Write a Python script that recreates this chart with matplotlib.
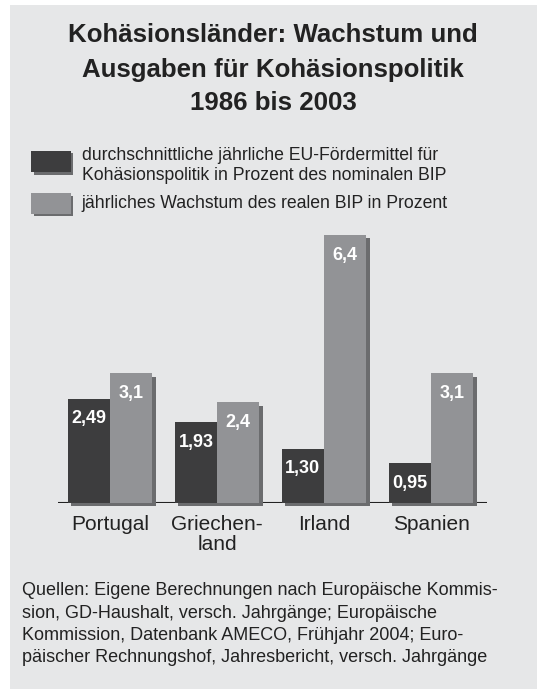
import matplotlib
matplotlib.use("Agg")
import matplotlib.pyplot as plt
import matplotlib.patheffects as pe
from matplotlib.patches import Rectangle
import numpy as np

plt.rcParams['font.family'] = ['Liberation Sans', 'DejaVu Sans']

# data
countries = ["Portugal", "Griechen-\nland", "Irland", "Spanien"]
eu_funds = [2.49, 1.93, 1.30, 0.95]      # EU-Foerdermittel in % des nominalen BIP
gdp_growth = [3.1, 2.4, 6.4, 3.1]        # Wachstum des realen BIP in %
eu_labels = ["2,49", "1,93", "1,30", "0,95"]
growth_labels = ["3,1", "2,4", "6,4", "3,1"]

title_lines = ["Kohäsionsländer: Wachstum und",
               "Ausgaben für Kohäsionspolitik",
               "1986 bis 2003"]
legend_labels = [["durchschnittliche jährliche EU-Fördermittel für",
                  "Kohäsionspolitik in Prozent des nominalen BIP"],
                 ["jährliches Wachstum des realen BIP in Prozent"]]
source_lines = ["Quellen: Eigene Berechnungen nach Europäische Kommis-",
                "sion, GD-Haushalt, versch. Jahrgänge; Europäische",
                "Kommission, Datenbank AMECO, Frühjahr 2004; Euro-",
                "päischer Rechnungshof, Jahresbericht, versch. Jahrgänge"]

dark = "#3d3d3e"
light = "#929396"
shadow = "#6b6c6e"
bg = "#e6e7e8"
ink = "#222222"

W, H = 537, 689
fig = plt.figure(figsize=(W / 100, H / 100), dpi=100)
fig.patch.set_facecolor("white")


def fx(x):
    return x / W


def fy(y):
    return 1 - y / H


# grey panel
fig.patches.append(Rectangle((fx(10), 0), 1 - fx(10), fy(5), transform=fig.transFigure,
                             facecolor=bg, edgecolor="none", zorder=-5))

# title
for i, line in enumerate(title_lines):
    fig.text(fx(273), fy([41.7, 76.5, 110][i]), line, ha="center", va="baseline",
             fontsize=18.6, fontweight="bold", color=ink)

# legend
shadow_fx = [pe.SimplePatchShadow(offset=(1.8, -1.6), shadow_rgbFace=shadow, alpha=1.0), pe.Normal()]
for col, y0, y1 in [(dark, 151, 172.3), (light, 193.3, 214)]:
    r = Rectangle((fx(31), fy(y1)), fx(70.7) - fx(31), fy(y0) - fy(y1), transform=fig.transFigure,
                  facecolor=col, edgecolor="none", zorder=2)
    r.set_path_effects(shadow_fx)
    fig.patches.append(r)
for lines, ys in zip(legend_labels, [[160, 180.5], [208]]):
    for line, yy in zip(lines, ys):
        fig.text(fx(81.5), fy(yy), line, ha="left", va="baseline", fontsize=12.7, color=ink)

# chart
ax = fig.add_axes([fx(58), fy(503), fx(487) - fx(58), fy(230) - fy(503)])
ax.set_facecolor("none")
x = np.arange(len(countries))
bw = 0.395
bar_fx = [pe.SimplePatchShadow(offset=(2.5, -2.5), shadow_rgbFace=shadow, alpha=1.0), pe.Normal()]
b1 = ax.bar(x - bw / 2, eu_funds, bw, color=dark, zorder=3, clip_on=False)
b2 = ax.bar(x + bw / 2, gdp_growth, bw, color=light, zorder=3, clip_on=False)
for b in list(b1) + list(b2):
    b.set_path_effects(bar_fx)

for bars, labels in [(b1, eu_labels), (b2, growth_labels)]:
    for b, lab in zip(bars, labels):
        ax.annotate(lab, (b.get_x() + b.get_width() / 2, b.get_height()),
                    xytext=(0, -14.6), textcoords="offset points", ha="center", va="center",
                    fontsize=13, fontweight="bold", color="white", zorder=5)

ax.axhline(0, color=ink, lw=1.5, zorder=2)
ax.set_xlim(-0.486, 3.523)
ax.set_ylim(0, 273 / 41.9)
ax.set_xticks(x)
ax.set_xticklabels(countries, fontsize=15, color=ink, linespacing=1.05)
ax.tick_params(axis="x", length=0, pad=9)
ax.set_yticks([])
for s in ax.spines.values():
    s.set_visible(False)

# source
for i, line in enumerate(source_lines):
    fig.text(fx(21.7), fy([595, 617.5, 640, 661.5][i]), line, ha="left", va="baseline",
             fontsize=13, color=ink)

fig.savefig("out.png", dpi=100, facecolor=fig.get_facecolor())
